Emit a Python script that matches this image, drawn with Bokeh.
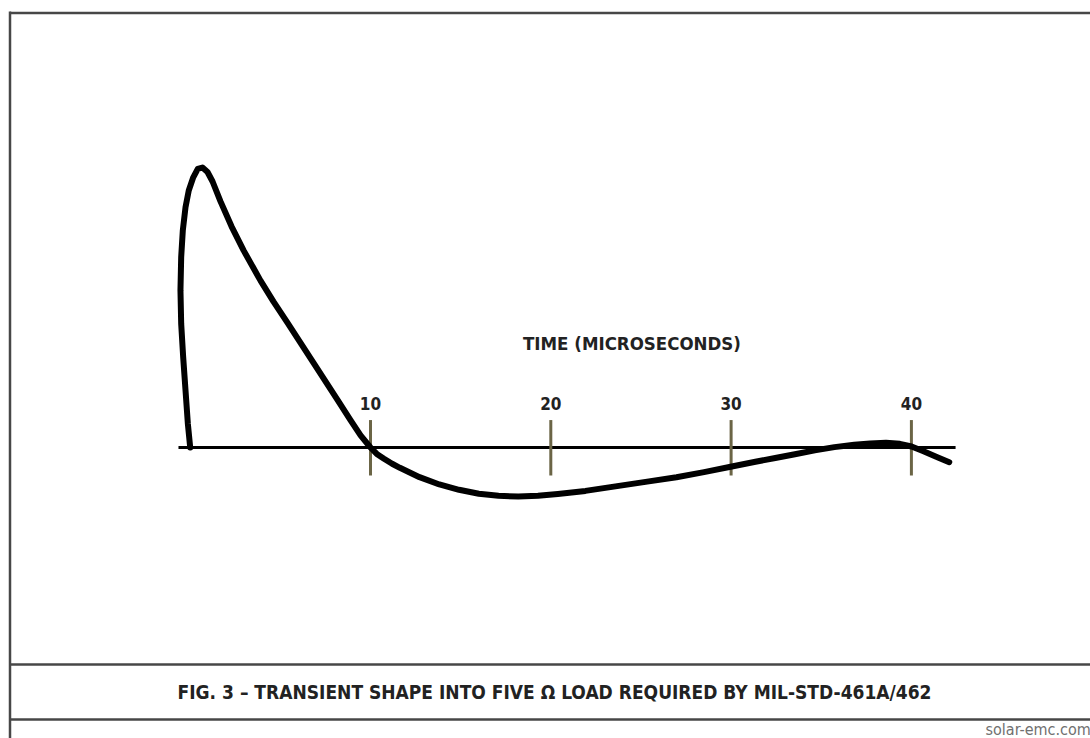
from bokeh.plotting import figure
from bokeh.embed import file_html
from bokeh.resources import INLINE
from bokeh.core.properties import value

# ---- data (time in microseconds, amplitude in relative units, peak = 100) ----
time_us = [0.0, -0.13, -0.26, -0.39, -0.50, -0.54, -0.50, -0.41, -0.26, -0.08, 0.17,
           0.42, 0.68, 0.96, 1.24, 1.68, 2.29, 2.96, 3.90, 4.62, 5.40, 6.84, 8.17,
           8.89, 9.45, 10.0, 10.35, 10.75, 11.2, 11.63, 12.72, 13.82, 14.91, 16.01,
           17.10, 18.20, 19.29, 20.39, 21.92, 23.68, 25.44, 26.97, 28.50, 30.04,
           31.35, 32.45, 33.54, 34.64, 35.73, 36.83, 37.71, 38.59, 39.36, 40.01,
           40.67, 41.44, 42.10]
amplitude = [0.0, 8.5, 20.4, 32.3, 44.2, 56.1, 68.0, 77.5, 85.8, 91.8, 96.5,
             99.5, 100.0, 98.4, 95.0, 87.9, 79.0, 70.4, 59.6, 52.1, 44.5, 30.2, 17.0,
             9.8, 4.3, 0.0, -2.3, -4.0, -5.8, -7.25, -10.6, -13.2, -15.1, -16.5,
             -17.25, -17.5, -17.25, -16.6, -15.5, -13.8, -12.1, -10.6, -8.8, -6.8,
             -5.1, -3.75, -2.4, -1.04, 0.14, 0.96, 1.43, 1.68, 1.32, 0.36,
             -1.32, -3.46, -5.25]

tick_values = [10, 20, 30, 40]
tick_labels = ["10", "20", "30", "40"]
axis_title = "TIME (MICROSECONDS)"
caption = "FIG. 3 \u2013 TRANSIENT SHAPE INTO FIVE \u03a9 LOAD REQUIRED BY MIL-STD-461A/462"
credit = "solar-emc.com"

axis_start, axis_end = -0.65, 42.45

# ---- layout constants ----
W, H = 1090, 738
PX_X = 18.03   # pixels per microsecond
PX_Y = 2.8     # pixels per amplitude unit
x0 = 10 - 370 / PX_X
x1 = x0 + W / PX_X
y1 = 447 / PX_Y
y0 = y1 - H / PX_Y

def sx(px):
    return x0 + px / PX_X

def sy(py):
    return (447 - py) / PX_Y

FONT = value("DejaVu Sans Condensed, Roboto, sans-serif")

p = figure(width=W, height=H, x_range=(x0, x1), y_range=(y0, y1),
           output_backend="svg", toolbar_location=None, min_border=0,
           background_fill_color="white", border_fill_color="white")
p.axis.visible = False
p.grid.visible = False
p.outline_line_color = None

# frame
frame_col = "#474747"
p.segment(x0=[sx(9.5)], y0=[sy(11)], x1=[sx(9.5)], y1=[sy(745)], line_color=frame_col, line_width=2.5)
p.segment(x0=[sx(9.5)] * 3, y0=[sy(12.5), sy(664), sy(719)], x1=[sx(1100)] * 3,
          y1=[sy(12.5), sy(664), sy(719)], line_color=frame_col, line_width=2.5)

# time axis line
p.segment(x0=[axis_start], y0=[0], x1=[axis_end], y1=[0], line_color="black", line_width=3)

# ticks
tick_half_up, tick_half_down = 9.8, -10.0
p.segment(x0=tick_values, y0=[tick_half_down] * 4, x1=tick_values, y1=[tick_half_up] * 4,
          line_color="#6b6546", line_width=3)

# curve
p.line(time_us, amplitude, line_color="black", line_width=6, line_join="round", line_cap="round")

# tick labels
p.text(x=tick_values, y=[15.6] * 4, text=tick_labels, text_align="center",
       text_baseline="middle", text_font=FONT, text_font_style="bold",
       text_font_size="17px", text_color="#222222")

# axis title
p.text(x=[24.5], y=[37.1], text=[axis_title], text_align="center", text_baseline="middle",
       text_font=FONT, text_font_style="bold", text_font_size="18.5px", text_color="#222222")

# caption
p.text(x=[sx(554)], y=[sy(691)], text=[caption], text_align="center", text_baseline="middle",
       text_font=FONT, text_font_style="bold", text_font_size="19px", text_color="#222222")

# credit
p.text(x=[sx(985)], y=[sy(729)], text=[credit], text_align="left", text_baseline="middle",
       text_font=FONT, text_font_size="16px", text_color="#707070")

open("out.html", "w").write(file_html(p, INLINE))
